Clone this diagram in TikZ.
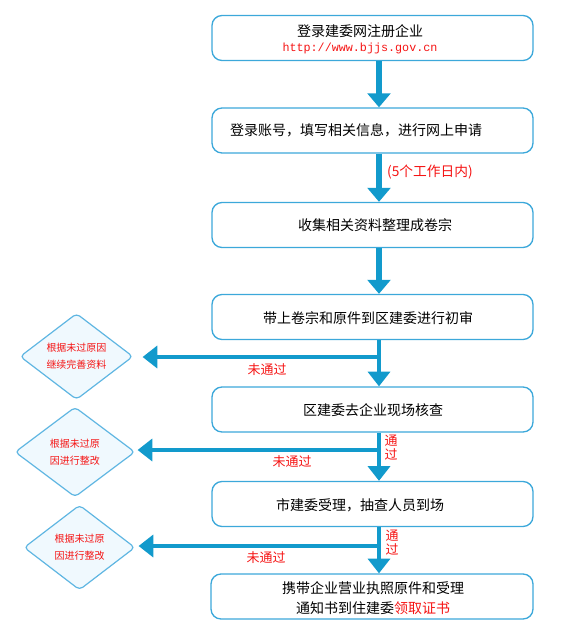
\documentclass[tikz,border=0pt]{standalone}
\usepackage{fontspec}
\setmainfont{Noto Sans CJK SC}
\newfontfamily\monof{Liberation Mono}
\usetikzlibrary{arrows.meta,shapes.geometric}
\definecolor{arrowblue}{RGB}{18,154,204}
\definecolor{boxblue}{RGB}{60,168,218}
\definecolor{diafill}{RGB}{240,249,254}
\definecolor{diaedge}{RGB}{95,182,226}
\definecolor{lblred}{RGB}{245,20,20}
\begin{document}
\begin{tikzpicture}[x=0.75pt,y=-0.75pt,
  stepbox/.style={draw=boxblue,line width=1pt,rounded corners=7.5pt,
    minimum width=240.75pt,minimum height=33.75pt,inner sep=0pt},
  decision/.style={diamond,draw=diaedge,fill=diafill,line width=0.9pt,
    rounded corners=3pt,inner sep=0pt,align=center,text=lblred,
    font=\fontsize{7.5pt}{12.75pt}\selectfont},
  boxtext/.style={inner sep=0pt,align=center,font=\fontsize{10.5pt}{15pt}\selectfont},
  redlbl/.style={inner sep=0pt,align=center,text=lblred,font=\fontsize{9.75pt}{10.5pt}\selectfont},
  bigarrow/.style={draw=arrowblue,line width=3.8pt,-{Triangle[width=17pt,length=10.5pt]}},
  thinarrow/.style={draw=arrowblue,line width=2.6pt,-{Triangle[width=16.5pt,length=11pt]}}]
\useasboundingbox (0,0) rectangle (578,633);

% boxes
\node[stepbox] (b1) at (372.5,38) {};
\node[stepbox] (b2) at (372.5,130.5) {};
\node[stepbox] (b3) at (372.5,225) {};
\node[stepbox] (b4) at (372.5,317) {};
\node[stepbox] (b5) at (372.5,409.5) {};
\node[stepbox] (b6) at (372.5,504) {};
\node[stepbox,minimum width=241.5pt] (b7) at (372,596.5) {};

% box texts
\node[boxtext] (t1a) at (360,31) {登录建委网注册企业};
\node[inner sep=0pt,text=lblred,font=\monof\fontsize{8.8pt}{10pt}\selectfont] (t1b) at (360,48.5) {http://www.bjjs.gov.cn};
\node[boxtext] (t2) at (356,130) {登录账号，填写相关信息，进行网上申请};
\node[boxtext] (t3) at (375,225) {收集相关资料整理成卷宗};
\node[boxtext] (t4) at (368,318) {带上卷宗和原件到区建委进行初审};
\node[boxtext] (t5) at (373,410) {区建委去企业现场核查};
\node[boxtext] (t6) at (360,505) {市建委受理，抽查人员到场};
\node[boxtext] (t7) at (373,598) {携带企业营业执照原件和受理\\通知书到住建委{\color{lblred}领取证书}};

% diamonds
\node[decision,minimum width=84.75pt,minimum height=63.75pt] (d1) at (76.5,356.5) {根据未过原因\\继续完善资料};
\node[decision,minimum width=90pt,minimum height=67.5pt] (d2) at (75,452) {根据未过原\\因进行整改};
\node[decision,minimum width=83.25pt,minimum height=63.75pt] (d3) at (79.5,547.5) {根据未过原\\因进行整改};

% main column
\coordinate (ax) at (379,0);
\draw[bigarrow] (b1.south -| ax) -- (b2.north -| ax);
\draw[bigarrow] (b2.south -| ax) -- (b3.north -| ax);
\draw[bigarrow] (b3.south -| ax) -- (b4.north -| ax);
\draw[thinarrow] (b4.south -| ax) -- (b5.north -| ax);
\draw[thinarrow] (b5.south -| ax) -- (b6.north -| ax);
\draw[thinarrow] (b6.south -| ax) -- (b7.north -| ax);

% branches
\coordinate (j1) at (379,357);
\coordinate (j2) at (379,450);
\coordinate (j3) at (379,546);
\draw[thinarrow,shorten >=6.75pt] (j1) -- (j1 -| d1.east);
\draw[thinarrow,shorten >=1.5pt] (j2) -- (j2 -| d2.east);
\draw[thinarrow,shorten >=2.25pt] (j3) -- (j3 -| d3.east);

% labels
\node[redlbl,font=\fontsize{10.3pt}{11pt}\selectfont] (l5) at (430,172) {(5个工作日内)};
\node[redlbl] (n1) at (267,370) {未通过};
\node[redlbl] (n2) at (292,462) {未通过};
\node[redlbl] (n3) at (266,558) {未通过};
\node[redlbl] (p1) at (391,448) {通\\过};
\node[redlbl] (p2) at (392,543) {通\\过};
\end{tikzpicture}
\end{document}
